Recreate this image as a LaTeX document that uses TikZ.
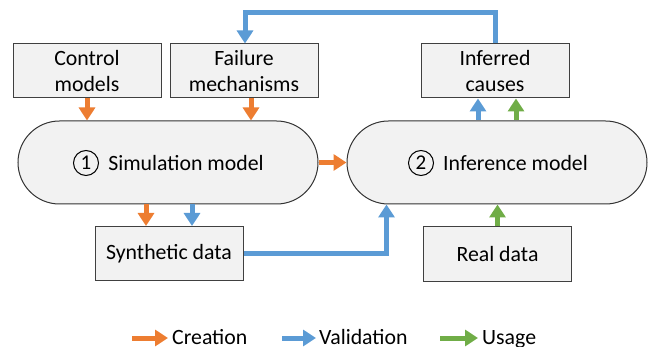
\documentclass[tikz,border=0pt]{standalone}
\usepackage{fontspec}
\setmainfont{Carlito}
\usetikzlibrary{arrows.meta,calc}
\definecolor{corange}{HTML}{ED7D31}
\definecolor{cblue}{HTML}{5B9BD5}
\definecolor{cgreen}{HTML}{70AD47}
\definecolor{cfill}{HTML}{F2F2F2}
\definecolor{cline}{HTML}{404040}
\begin{document}
\begin{tikzpicture}[x=1pt,y=-1pt,
 font=\fontsize{21.8}{26}\selectfont,
 box/.style={draw=cline,line width=1pt,fill=cfill,minimum width=148pt,minimum height=54pt,inner sep=0pt,align=center},
 model/.style={draw=black!80,line width=1pt,fill=cfill,minimum width=300pt,minimum height=83pt,rounded corners=41.5pt,inner sep=0pt},
 circnum/.style={draw=black,circle,line width=1pt,minimum size=25pt,inner sep=0pt,font=\fontsize{21}{21}\selectfont},
 arr/.style={line width=5pt,-{Triangle[width=16pt,length=13pt]}},
 legtext/.style={anchor=base west,inner sep=0pt},
 ]
\useasboundingbox (0,0) rectangle (650,347);
% boxes
\node[box] (ctrl) at (87,71) {Control\\models};
\node[box] (fail) at (244,71) {Failure\\mechanisms};
\node[box] (infc) at (495,71) {Inferred\\causes};
\node[model] (sim) at (168,162.5) {};
\node[model] (inf) at (497,162.5) {};
\node[box] (syn) at (169,253.5) {Synthetic data};
\node[box] (real) at (497.5,254) {Real data};
% model labels
\node[anchor=base,inner sep=0pt] (siml) at (186,171) {Simulation model};
\node[circnum] (c1) at (86,163) {1};
\node[anchor=base,inner sep=0pt] (infl) at (515.5,171) {Inference model};
\node[circnum] (c2) at (421,163) {2};
% helper coordinates
\coordinate (f1) at ($(fail.south)+(7,0)$);
\coordinate (s1) at ($(syn.north)+(-23,0)$);
\coordinate (s2) at ($(syn.north)+(23,0)$);
\coordinate (v1) at ($(inf.south west)+(40,0)$);
\coordinate (i1) at ($(infc.south)+(-17,0)$);
\coordinate (i2) at ($(infc.south)+(21,0)$);
\coordinate (top) at ($(infc.north)+(0,-31)$);
\coordinate (fb) at ($(fail.north)+(1,0)$);
% connectors
\draw[arr,corange] (ctrl.south) -- (ctrl.south |- sim.north);
\draw[arr,corange] (f1) -- (f1 |- sim.north);
\draw[arr,corange] (sim.east) -- (inf.west);
\draw[arr,corange] (s1 |- sim.south) -- (s1);
\draw[arr,cblue] (s2 |- sim.south) -- (s2);
\draw[arr,cblue] (syn.east) -- (syn.east -| v1) -- (v1);
\draw[arr,cgreen] (real.north) -- (real.north |- inf.south);
\draw[arr,cblue] (i1 |- inf.north) -- (i1);
\draw[arr,cgreen] (i2 |- inf.north) -- (i2);
\draw[arr,cblue] (infc.north) -- (top) -- (top -| fb) -- (fb);
% legend
\coordinate (la1) at (132,338);
\coordinate (la2) at (282,338);
\coordinate (la3) at (440,338);
\node[legtext] (lc) at (172,344) {Creation};
\node[legtext] (lv) at (319,344) {Validation};
\node[legtext] (lu) at (482,344) {Usage};
\draw[arr,corange] (la1) -- ($(la1 -| lc.west)+(-4,0)$);
\draw[arr,cblue] (la2) -- ($(la2 -| lv.west)+(-3,0)$);
\draw[arr,cgreen] (la3) -- ($(la3 -| lu.west)+(-4,0)$);
\end{tikzpicture}
\end{document}
